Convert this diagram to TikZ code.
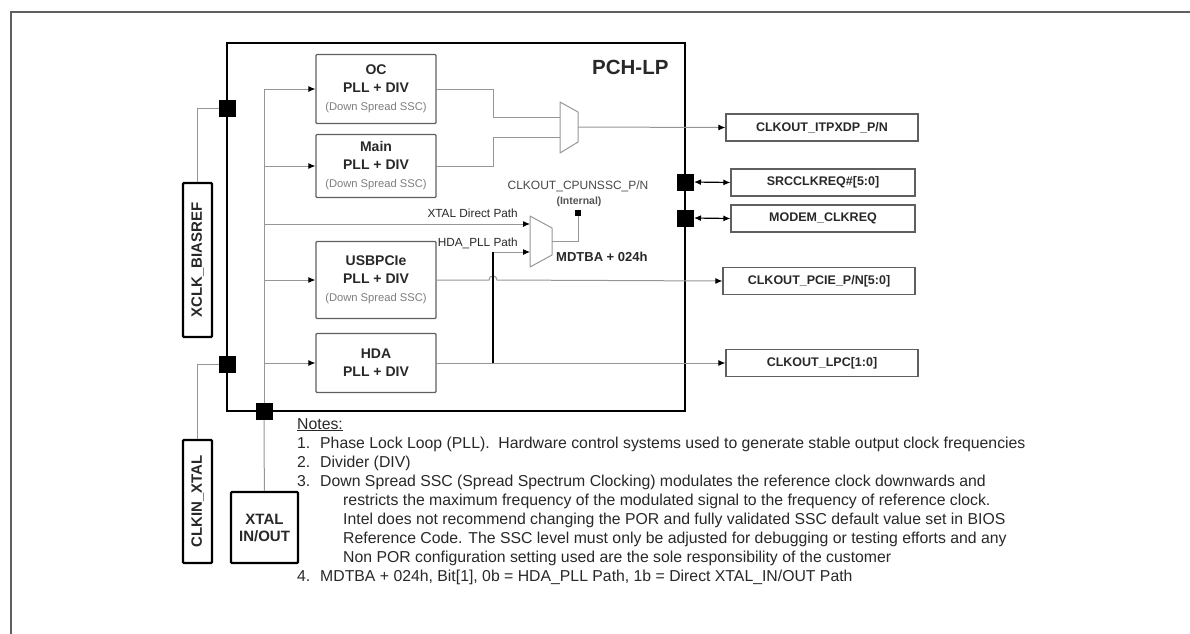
\documentclass[tikz,border=0pt]{standalone}
\usepackage{fontspec}
\setmainfont{Liberation Sans}
\usetikzlibrary{arrows.meta,positioning,calc}
\definecolor{ink}{RGB}{40,40,40}
\definecolor{wire}{RGB}{150,150,150}
\definecolor{edge}{RGB}{95,95,95}
\definecolor{faint}{RGB}{125,125,125}
\newcommand{\subtxt}[1]{{\fontsize{11.2}{18}\selectfont\mdseries\color{faint}#1}}
\tikzset{
  chip/.style={draw=black, line width=2.6pt},
  pad/.style={fill=black, minimum size=17pt, inner sep=0pt},
  blk/.style={draw=edge, line width=1.2pt, rounded corners=1pt, minimum width=120pt,
              font=\fontsize{14}{18}\selectfont\bfseries, text=ink, align=center, inner sep=0pt},
  outbox/.style={draw=edge, line width=1.2pt, minimum width=192pt, minimum height=27pt,
              font=\fontsize{12.5}{14}\selectfont\bfseries, text=ink, inner sep=0pt},
  pinbox/.style={draw=black, line width=2.4pt, rounded corners=1pt,
              font=\fontsize{15}{17}\selectfont\bfseries, text=ink, inner sep=0pt, align=center},
  sig/.style={draw=wire, line width=1pt},
  sigarr/.style={sig, -{Latex[length=7pt,width=6pt,black]}},
  bidir/.style={draw=black, line width=1.2pt, {Latex[length=7pt,width=6pt]}-{Latex[length=7pt,width=6pt]}},
  lbl/.style={font=\fontsize{11.8}{13}\selectfont, text=ink, inner sep=0pt},
  mux/.style={draw=wire, line width=1pt, line join=round},
}

\begin{document}
\begin{tikzpicture}[x=1pt,y=-1pt]
  \clip (0,0) rectangle (1190,633);
  \draw[edge, line width=1.6pt] (11,700) -- (11,12) -- (1300,12);
  % chip outline
  \draw[chip] (227,43) rectangle (685,411);
  \node[font=\fontsize{20.5}{22}\selectfont\bfseries, text=ink, anchor=east] (chipname) at (672,67) {PCH-LP};
  % PLL blocks
  \node[blk, minimum height=69pt] (oc)   at (376,89)  {OC\\PLL + DIV\\\subtxt{(Down Spread SSC)}};
  \node[blk, minimum height=63pt] (main) at (376,166) {Main\\PLL + DIV\\\subtxt{(Down Spread SSC)}};
  \node[blk, minimum height=77pt] (usb)  at (376,280) {USBPCIe\\PLL + DIV\\\subtxt{(Down Spread SSC)}};
  \node[blk, minimum height=59pt] (hda)  at (376,363) {HDA\\PLL + DIV};
  % outputs
  \node[outbox] (itp)   at (822,127.5) {CLKOUT\_ITPXDP\_P/N};
  \node[outbox, minimum width=184pt] (src)   at (823,182.5) {SRCCLKREQ\#[5:0]};
  \node[outbox, minimum width=184pt] (modem) at (823,218.5) {MODEM\_CLKREQ};
  \node[outbox] (pcie)  at (819,281)   {CLKOUT\_PCIE\_P/N[5:0]};
  \node[outbox] (lpc)   at (822,363)   {CLKOUT\_LPC[1:0]};
  % external pins
  \node[pinbox, rotate=90, minimum width=154pt, minimum height=29pt] (xclk)  at (197.5,260)   {XCLK\_BIASREF};
  \node[pinbox, rotate=90, minimum width=123pt, minimum height=29pt] (clkin) at (197.5,501.5) {CLKIN\_XTAL};
  \node[pinbox, minimum width=67pt, minimum height=71pt] (xtal) at (264.5,527.5) {XTAL\\IN/OUT};
  % muxes
  \coordinate (m1a) at (560,117);
  \coordinate (m1b) at (560,137);
  \coordinate (m1o) at (578,127);
  \coordinate (m2a) at (530,224);
  \coordinate (m2b) at (530,252);
  \coordinate (m2o) at (552,241);
  \draw[mux] (560,102) -- (578,112) -- (578,142) -- (560,153) -- cycle;
  \draw[mux] (530,216) -- (552,228) -- (552,255) -- (530,267) -- cycle;
  % wiring
  \draw[sig] (227,108) -| (xclk);
  \draw[sig] (227,364) -| (clkin);
  \draw[sig] (264,411) -- (xtal);
  \draw[sig] (264,411) -- (264,89);
  \draw[sigarr] (264,89)  -- (oc.west);
  \draw[sigarr] (264,166) -- (main.west);
  \draw[sigarr] (264,280) -- (usb.west);
  \draw[sigarr] (264,363) -- (hda.west);
  \draw[sigarr] (264,224) -- (m2a);
  \node[lbl, anchor=base east] (xdlbl) at (518,217) {XTAL Direct Path};
  \coordinate (htap) at (493,252);
  \draw[sigarr] (htap) -- (m2b);
  \node[lbl, anchor=base east] (hplbl) at (518,246) {HDA\_PLL Path};
  \draw[sig] (oc.east) -- (493,89) |- (m1a);
  \draw[sig] (main.east) -- (493,166) |- (m1b);
  \draw[sigarr] (m1o) -- (itp.west);
  \draw[sigarr] (usb.east) -- (489,280) .. controls (489,274.5) and (497,274.5) .. (497,280) -- (pcie.west);
  \draw[sigarr] (hda.east) -- (lpc.west);
  \draw[black, line width=1.5pt] (htap) -- (htap |- hda.east);
  \node[fill=black, minimum size=6pt, inner sep=0pt] (cpu) at (578,213) {};
  \draw[sig] (m2o) -| (cpu);
  \node[font=\fontsize{12}{13}\selectfont, text=ink!85, inner sep=0pt] (cpulbl) at (578,186) {CLKOUT\_CPUNSSC\_P/N};
  \node[font=\fontsize{10.5}{11}\selectfont\bfseries, text=ink!80, inner sep=0pt] (intlbl) at (579,202) {(Internal)};
  \node[font=\fontsize{13}{14}\selectfont\bfseries, text=ink, anchor=west, inner sep=0pt] (mdtba) at (556,257) {MDTBA + 024h};
  \draw[bidir] (694,182) -- (src.west);
  \draw[bidir] (694,218) -- (modem.west);
  % pads on the chip edge
  \node[pad] (pl1) at (227,108) {};
  \node[pad] (pl2) at (227,364) {};
  \node[pad] (pb)  at (264,411) {};
  \node[pad] (pr1) at (685,182) {};
  \node[pad] (pr2) at (685,218) {};
  % notes
  \node[anchor=north west, inner sep=0pt, align=left, text=ink,
        font=\fontsize{15.8}{19}\selectfont] (notes) at (297,418) {%
    \underline{Notes:}\\
    \makebox[23pt][l]{1.}Phase Lock Loop (PLL).~ Hardware control systems used to generate stable output clock frequencies\\
    \makebox[23pt][l]{2.}Divider (DIV)\\
    \makebox[23pt][l]{3.}Down Spread SSC (Spread Spectrum Clocking) modulates the reference clock downwards and\\
    \hspace*{46pt}restricts the maximum frequency of the modulated signal to the frequency of reference clock.\\
    \hspace*{46pt}Intel does not recommend changing the POR and fully validated SSC default value set in BIOS\\
    \hspace*{46pt}Reference Code. The SSC level must only be adjusted for debugging or testing efforts and any\\
    \hspace*{46pt}Non POR configuration setting used are the sole responsibility of the customer\\
    \makebox[23pt][l]{4.}MDTBA + 024h, Bit[1], 0b = HDA\_PLL Path, 1b = Direct XTAL\_IN/OUT Path};
\end{tikzpicture}
\end{document}
